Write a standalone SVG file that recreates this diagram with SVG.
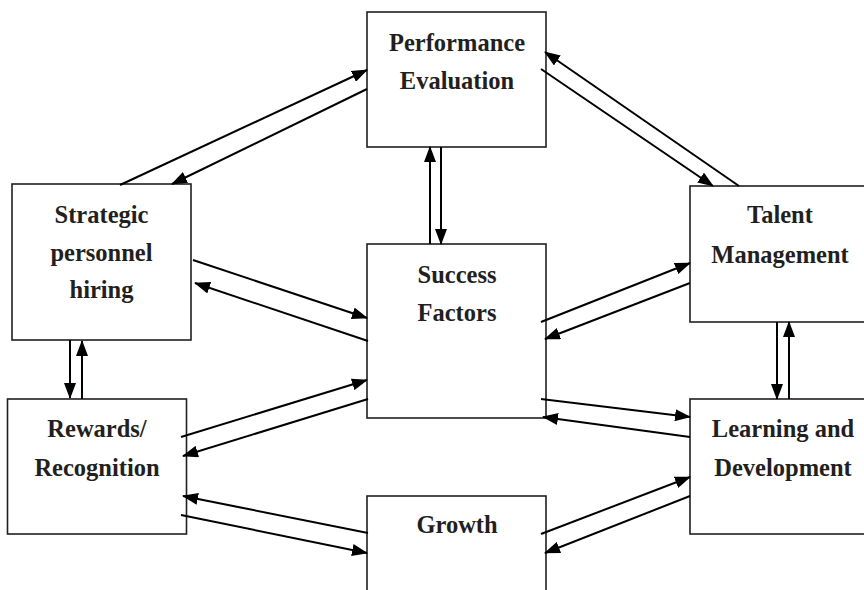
<svg xmlns="http://www.w3.org/2000/svg" width="864" height="590" viewBox="0 0 864 590">
<style>
.box{fill:#fff;stroke:#231f20;stroke-width:1.6}
.lbl{font-family:"Liberation Serif","Times New Roman",serif;font-weight:bold;font-size:24.5px;fill:#231f20;text-anchor:middle}
.c line{stroke:#000;stroke-width:2;marker-end:url(#ah)}
</style>
<defs>
<marker id="ah" markerUnits="userSpaceOnUse" markerWidth="16" markerHeight="12" viewBox="0 0 16 12" refX="15" refY="6" orient="auto">
<path d="M0,0 L16,6 L0,12 z" fill="#000"/>
</marker>
</defs>
<rect width="864" height="590" fill="#fff"/>
<g id="perf"><rect class="box" x="367" y="12" width="179" height="135"/><text class="lbl" x="457" y="51">Performance</text><text class="lbl" x="457" y="89">Evaluation</text></g>
<g id="strategic"><rect class="box" x="12" y="184" width="179" height="156"/><text class="lbl" x="101.5" y="223">Strategic</text><text class="lbl" x="101.5" y="261">personnel</text><text class="lbl" x="101.5" y="298">hiring</text></g>
<g id="success"><rect class="box" x="367" y="244" width="179" height="174"/><text class="lbl" x="457" y="283">Success</text><text class="lbl" x="457" y="321">Factors</text></g>
<g id="talent"><rect class="box" x="690" y="186" width="190" height="136"/><text class="lbl" x="780" y="223">Talent</text><text class="lbl" x="780" y="263">Management</text></g>
<g id="rewards"><rect class="box" x="7.5" y="399" width="179" height="135"/><text class="lbl" x="97" y="437">Rewards/</text><text class="lbl" x="97" y="476">Recognition</text></g>
<g id="learning"><rect class="box" x="690" y="399" width="190" height="135"/><text class="lbl" x="783" y="437">Learning and</text><text class="lbl" x="783" y="476">Development</text></g>
<g id="growth"><rect class="box" x="367" y="496" width="179" height="110"/><text class="lbl" x="457" y="533">Growth</text></g>
<g class="c" id="connectors">
<line x1="120" y1="185" x2="367" y2="70"/>
<line x1="367" y1="89" x2="172" y2="184"/>
<line x1="430" y1="244" x2="430" y2="147"/>
<line x1="441" y1="147" x2="441" y2="244"/>
<line x1="739" y1="186" x2="545" y2="52"/>
<line x1="541" y1="69" x2="713" y2="186"/>
<line x1="541" y1="322" x2="690" y2="263"/>
<line x1="690" y1="283" x2="545" y2="339"/>
<line x1="193" y1="260" x2="367" y2="318"/>
<line x1="368" y1="341" x2="195" y2="283"/>
<line x1="70" y1="340" x2="70" y2="398"/>
<line x1="82" y1="399" x2="82" y2="341"/>
<line x1="181" y1="437" x2="367" y2="380"/>
<line x1="368" y1="399" x2="183" y2="456"/>
<line x1="368" y1="533" x2="183" y2="496"/>
<line x1="181" y1="515" x2="367" y2="553"/>
<line x1="777" y1="322" x2="777" y2="399"/>
<line x1="789" y1="399" x2="789" y2="322"/>
<line x1="541" y1="399" x2="690" y2="417"/>
<line x1="690" y1="437" x2="543" y2="417"/>
<line x1="541" y1="534" x2="690" y2="477"/>
<line x1="690" y1="496" x2="545" y2="553"/>
</g>
</svg>
